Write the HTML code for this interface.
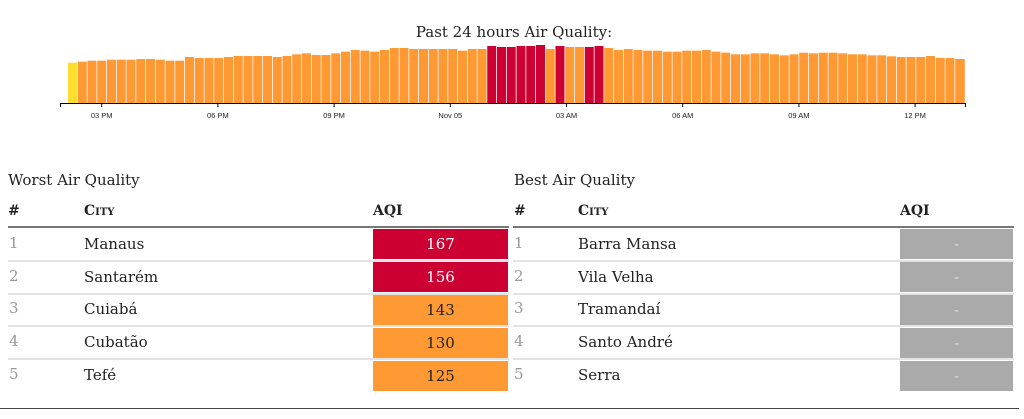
<!DOCTYPE html>
<html><head><meta charset="utf-8"><style>
body{margin:0;width:1024px;height:419px;background:#fff;position:relative;overflow:hidden;font-family:"DejaVu Serif","Liberation Serif",serif;color:#222}
.a{position:absolute;white-space:nowrap}
.t{font-size:15px}
.h{font-size:14px;font-weight:bold}
.sc{font-variant:small-caps}
.n{font-size:15px;color:#999}
.c{font-size:15px;color:#222}
.b{position:absolute;height:30px;text-align:center;line-height:30px;font-size:15px}
.ln{position:absolute;height:2px;background:#e3e3e3}
.o{fill:#ff9933}.r{fill:#cc0033}.y{fill:#fddd30}
</style></head><body>
<svg class="a" style="left:0;top:0" width="1024" height="130">
<text x="514" y="37" text-anchor="middle" font-family="DejaVu Serif,Liberation Serif,serif" font-size="15" fill="#222">Past 24 hours Air Quality:</text>
<g transform="translate(0,20) scale(1,0.33333)">
<rect class="y" x="68" y="128" width="9" height="122"/>
<rect class="o" x="77.75" y="125" width="9" height="125"/>
<rect class="o" x="87.5" y="122" width="9" height="128"/>
<rect class="o" x="97.25" y="122" width="9" height="128"/>
<rect class="o" x="107" y="119" width="9" height="131"/>
<rect class="o" x="116.75" y="119" width="9" height="131"/>
<rect class="o" x="126.5" y="119" width="9" height="131"/>
<rect class="o" x="136.25" y="117" width="9" height="133"/>
<rect class="o" x="146" y="117" width="9" height="133"/>
<rect class="o" x="155.75" y="119" width="9" height="131"/>
<rect class="o" x="165.5" y="122" width="9" height="128"/>
<rect class="o" x="175.25" y="122" width="9" height="128"/>
<rect class="o" x="185" y="111" width="9" height="139"/>
<rect class="o" x="194.75" y="114" width="9" height="136"/>
<rect class="o" x="204.5" y="114" width="9" height="136"/>
<rect class="o" x="214.25" y="114" width="9" height="136"/>
<rect class="o" x="224" y="111" width="9" height="139"/>
<rect class="o" x="233.75" y="108" width="9" height="142"/>
<rect class="o" x="243.5" y="108" width="9" height="142"/>
<rect class="o" x="253.25" y="108" width="9" height="142"/>
<rect class="o" x="263" y="108" width="9" height="142"/>
<rect class="o" x="272.75" y="111" width="9" height="139"/>
<rect class="o" x="282.5" y="108" width="9" height="142"/>
<rect class="o" x="292.25" y="103" width="9" height="147"/>
<rect class="o" x="302" y="100" width="9" height="150"/>
<rect class="o" x="311.75" y="105" width="9" height="145"/>
<rect class="o" x="321.5" y="105" width="9" height="145"/>
<rect class="o" x="331.25" y="100" width="9" height="150"/>
<rect class="o" x="341" y="95" width="9" height="155"/>
<rect class="o" x="350.75" y="90" width="9" height="160"/>
<rect class="o" x="360.5" y="92" width="9" height="158"/>
<rect class="o" x="370.25" y="95" width="9" height="155"/>
<rect class="o" x="380" y="90" width="9" height="160"/>
<rect class="o" x="389.75" y="84" width="9" height="166"/>
<rect class="o" x="399.5" y="84" width="9" height="166"/>
<rect class="o" x="409.25" y="87" width="9" height="163"/>
<rect class="o" x="419" y="87" width="9" height="163"/>
<rect class="o" x="428.75" y="87" width="9" height="163"/>
<rect class="o" x="438.5" y="87" width="9" height="163"/>
<rect class="o" x="448.25" y="87" width="9" height="163"/>
<rect class="o" x="458" y="92" width="9" height="158"/>
<rect class="o" x="467.75" y="87" width="9" height="163"/>
<rect class="o" x="477.5" y="87" width="9" height="163"/>
<rect class="r" x="487.25" y="78" width="9" height="172"/>
<rect class="r" x="497" y="81" width="9" height="169"/>
<rect class="r" x="506.75" y="81" width="9" height="169"/>
<rect class="r" x="516.5" y="78" width="9" height="172"/>
<rect class="r" x="526.25" y="78" width="9" height="172"/>
<rect class="r" x="536" y="75" width="9" height="175"/>
<rect class="o" x="545.75" y="87" width="9" height="163"/>
<rect class="r" x="555.5" y="78" width="9" height="172"/>
<rect class="o" x="565.25" y="81" width="9" height="169"/>
<rect class="o" x="575" y="81" width="9" height="169"/>
<rect class="r" x="584.75" y="81" width="9" height="169"/>
<rect class="r" x="594.5" y="78" width="9" height="172"/>
<rect class="o" x="604.25" y="84" width="9" height="166"/>
<rect class="o" x="614" y="90" width="9" height="160"/>
<rect class="o" x="623.75" y="87" width="9" height="163"/>
<rect class="o" x="633.5" y="90" width="9" height="160"/>
<rect class="o" x="643.25" y="92" width="9" height="158"/>
<rect class="o" x="653" y="92" width="9" height="158"/>
<rect class="o" x="662.75" y="95" width="9" height="155"/>
<rect class="o" x="672.5" y="95" width="9" height="155"/>
<rect class="o" x="682.25" y="92" width="9" height="158"/>
<rect class="o" x="692" y="92" width="9" height="158"/>
<rect class="o" x="701.75" y="90" width="9" height="160"/>
<rect class="o" x="711.5" y="95" width="9" height="155"/>
<rect class="o" x="721.25" y="98" width="9" height="152"/>
<rect class="o" x="731" y="103" width="9" height="147"/>
<rect class="o" x="740.75" y="103" width="9" height="147"/>
<rect class="o" x="750.5" y="100" width="9" height="150"/>
<rect class="o" x="760.25" y="100" width="9" height="150"/>
<rect class="o" x="770" y="103" width="9" height="147"/>
<rect class="o" x="779.75" y="106" width="9" height="144"/>
<rect class="o" x="789.5" y="103" width="9" height="147"/>
<rect class="o" x="799.25" y="98" width="9" height="152"/>
<rect class="o" x="809" y="100" width="9" height="150"/>
<rect class="o" x="818.75" y="98" width="9" height="152"/>
<rect class="o" x="828.5" y="98" width="9" height="152"/>
<rect class="o" x="838.25" y="100" width="9" height="150"/>
<rect class="o" x="848" y="103" width="9" height="147"/>
<rect class="o" x="857.75" y="103" width="9" height="147"/>
<rect class="o" x="867.5" y="106" width="9" height="144"/>
<rect class="o" x="877.25" y="106" width="9" height="144"/>
<rect class="o" x="887" y="109" width="9" height="141"/>
<rect class="o" x="896.75" y="111" width="9" height="139"/>
<rect class="o" x="906.5" y="111" width="9" height="139"/>
<rect class="o" x="916.25" y="111" width="9" height="139"/>
<rect class="o" x="926" y="108" width="9" height="142"/>
<rect class="o" x="935.75" y="114" width="9" height="136"/>
<rect class="o" x="945.5" y="114" width="9" height="136"/>
<rect class="o" x="955.25" y="117" width="9.5" height="133"/>
</g>
<path d="M60.5,107V103.5H965.5V107" stroke="#000" fill="none"/>
<g stroke="#000">
<line x1="101.7" x2="101.7" y1="103" y2="107"/><line x1="217.9" x2="217.9" y1="103" y2="107"/><line x1="334.1" x2="334.1" y1="103" y2="107"/><line x1="450.3" x2="450.3" y1="103" y2="107"/><line x1="566.5" x2="566.5" y1="103" y2="107"/><line x1="682.7" x2="682.7" y1="103" y2="107"/><line x1="798.9" x2="798.9" y1="103" y2="107"/><line x1="915.1" x2="915.1" y1="103" y2="107"/>
</g>
<g font-family="Liberation Sans,sans-serif" font-size="7.5" fill="#222" text-anchor="middle">
<text x="101.7" y="118">03 PM</text><text x="217.9" y="118">06 PM</text><text x="334.1" y="118">09 PM</text><text x="450.3" y="118">Nov 05</text><text x="566.5" y="118">03 AM</text><text x="682.7" y="118">06 AM</text><text x="798.9" y="118">09 AM</text><text x="915.1" y="118">12 PM</text>
</g>
</svg>
<div class="a t" style="left:8px;top:171px">Worst Air Quality</div>
<div class="a t" style="left:514px;top:171px">Best Air Quality</div>
<div class="a h" style="left:8px;top:203px">#</div>
<div class="a h sc" style="left:84px;top:203px">City</div>
<div class="a h" style="left:373px;top:203px">AQI</div>
<div class="a h" style="left:514px;top:203px">#</div>
<div class="a h sc" style="left:578px;top:203px">City</div>
<div class="a h" style="left:900px;top:203px">AQI</div>
<div class="a" style="left:8px;top:226px;width:501px;height:2px;background:#777"></div>
<div class="a" style="left:513px;top:226px;width:501px;height:2px;background:#777"></div>

<div class="a n" style="left:9px;top:234px">1</div><div class="a c" style="left:84px;top:235px">Manaus</div>
<div class="b" style="left:373px;top:229px;width:135px;background:#cc0033;color:#fff">167</div>
<div class="a n" style="left:514px;top:234px">1</div><div class="a c" style="left:578px;top:235px">Barra Mansa</div>
<div class="b" style="left:900px;top:229px;width:113px;background:#aaa;color:#ddd">-</div>
<div class="ln" style="left:8px;top:259.5px;width:501px"></div><div class="ln" style="left:513px;top:259.5px;width:501px"></div>

<div class="a n" style="left:9px;top:267px">2</div><div class="a c" style="left:84px;top:268px">Santarém</div>
<div class="b" style="left:373px;top:262px;width:135px;background:#cc0033;color:#fff">156</div>
<div class="a n" style="left:514px;top:267px">2</div><div class="a c" style="left:578px;top:268px">Vila Velha</div>
<div class="b" style="left:900px;top:262px;width:113px;background:#aaa;color:#ddd">-</div>
<div class="ln" style="left:8px;top:292.5px;width:501px"></div><div class="ln" style="left:513px;top:292.5px;width:501px"></div>

<div class="a n" style="left:9px;top:299px">3</div><div class="a c" style="left:84px;top:300px">Cuiabá</div>
<div class="b" style="left:373px;top:294.5px;width:135px;background:#ff9933;color:#222">143</div>
<div class="a n" style="left:514px;top:299px">3</div><div class="a c" style="left:578px;top:300px">Tramandaí</div>
<div class="b" style="left:900px;top:294.5px;width:113px;background:#aaa;color:#ddd">-</div>
<div class="ln" style="left:8px;top:325px;width:501px"></div><div class="ln" style="left:513px;top:325px;width:501px"></div>

<div class="a n" style="left:9px;top:332px">4</div><div class="a c" style="left:84px;top:333px">Cubatão</div>
<div class="b" style="left:373px;top:327.5px;width:135px;background:#ff9933;color:#222">130</div>
<div class="a n" style="left:514px;top:332px">4</div><div class="a c" style="left:578px;top:333px">Santo André</div>
<div class="b" style="left:900px;top:327.5px;width:113px;background:#aaa;color:#ddd">-</div>
<div class="ln" style="left:8px;top:358px;width:501px"></div><div class="ln" style="left:513px;top:358px;width:501px"></div>

<div class="a n" style="left:9px;top:365px">5</div><div class="a c" style="left:84px;top:366px">Tefé</div>
<div class="b" style="left:373px;top:360.5px;width:135px;background:#ff9933;color:#222">125</div>
<div class="a n" style="left:514px;top:365px">5</div><div class="a c" style="left:578px;top:366px">Serra</div>
<div class="b" style="left:900px;top:360.5px;width:113px;background:#aaa;color:#ddd">-</div>

<div class="a" style="left:0;top:408px;width:1019px;height:1px;background:#444"></div>
</body></html>
